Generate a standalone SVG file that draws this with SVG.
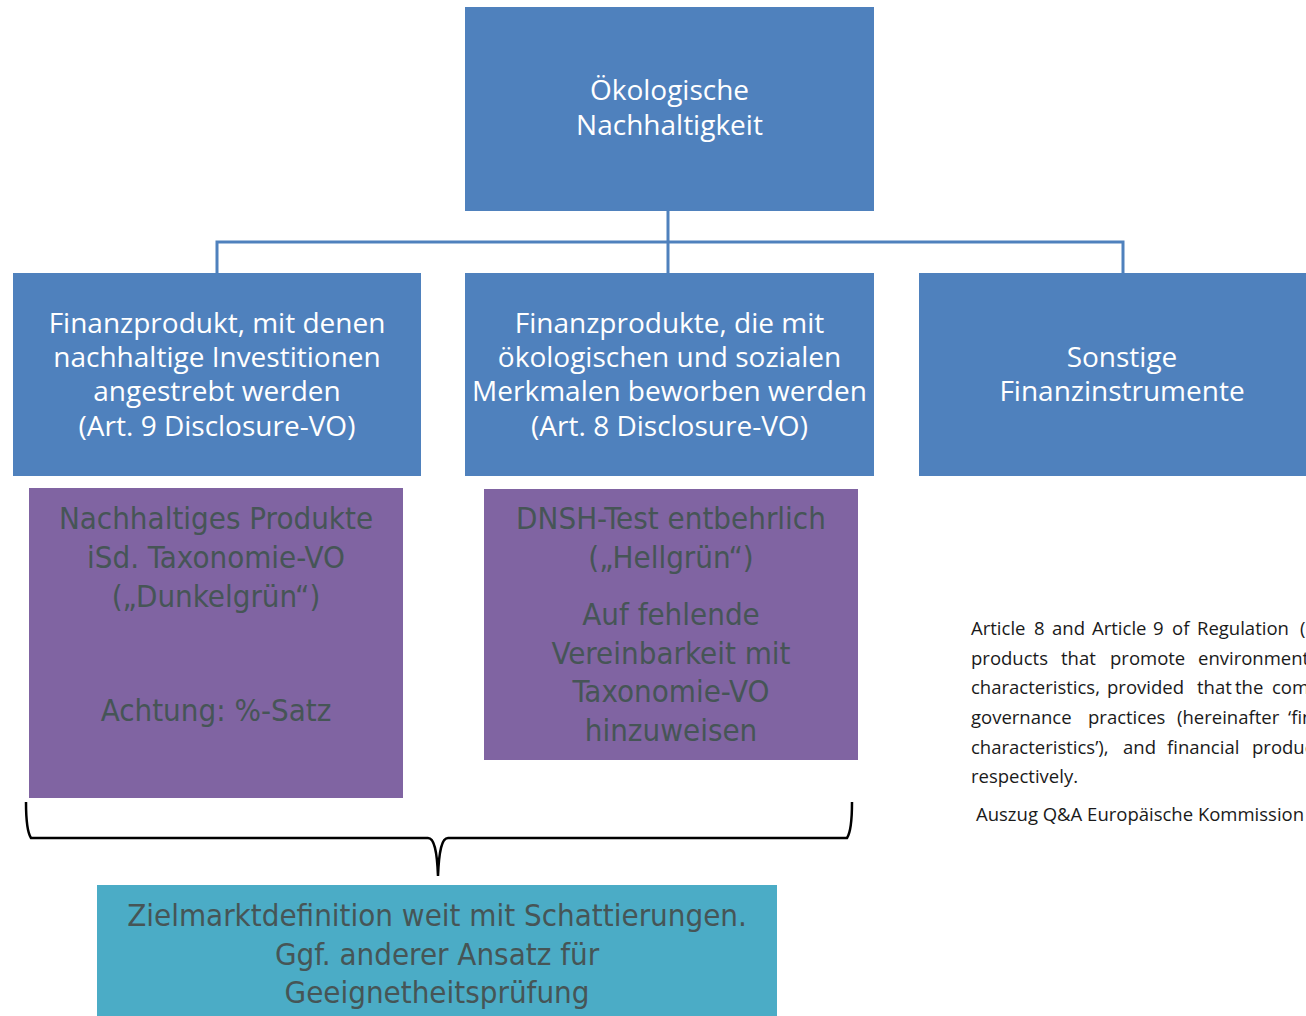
<svg xmlns="http://www.w3.org/2000/svg" width="1306" height="1016" viewBox="0 0 1306 1016">
<style>
.blue{fill:#4F81BD}
.purple{fill:#8064A2}
.teal{fill:#4BACC6}
.wt{font-family:"Open Sans","Noto Sans",sans-serif;font-size:28px;fill:#FFFFFF;text-anchor:middle}
.gt{font-family:"DejaVu Sans Condensed","DejaVu Sans",sans-serif;font-stretch:condensed;font-size:31px;fill:#465556;text-anchor:middle}
.qt{font-family:"Open Sans","Noto Sans",sans-serif;font-size:18.5px;fill:#1a1a1a}
.conn{stroke:#4F81BD;stroke-width:3;fill:none}
.brace{stroke:#000;stroke-width:2.5;fill:none}
</style>
<rect width="1306" height="1016" fill="#FFFFFF"/>
<g id="connectors">
<path class="conn" d="M668 211V273M217 273V242H1123V273"/>
</g>
<g id="node-top">
<rect class="blue" x="465" y="7" width="409" height="204"/>
<text class="wt"><tspan x="669.5" y="100">Ökologische</tspan><tspan x="669.5" y="135">Nachhaltigkeit</tspan></text>
</g>
<g id="node-art9">
<rect class="blue" x="13" y="273" width="408" height="203"/>
<text class="wt"><tspan x="217" y="333">Finanzprodukt, mit denen</tspan><tspan x="217" y="367">nachhaltige Investitionen</tspan><tspan x="217" y="401">angestrebt werden</tspan><tspan x="217" y="436">(Art. 9 Disclosure-VO)</tspan></text>
</g>
<g id="node-art8">
<rect class="blue" x="465" y="273" width="409" height="203"/>
<text class="wt"><tspan x="669.5" y="333">Finanzprodukte, die mit</tspan><tspan x="669.5" y="367">ökologischen und sozialen</tspan><tspan x="669.5" y="401">Merkmalen beworben werden</tspan><tspan x="669.5" y="436">(Art. 8 Disclosure-VO)</tspan></text>
</g>
<g id="node-sonstige">
<rect class="blue" x="919" y="273" width="387" height="203"/>
<text class="wt"><tspan x="1122" y="367">Sonstige</tspan><tspan x="1122" y="401">Finanzinstrumente</tspan></text>
</g>
<g id="node-dunkelgruen">
<rect class="purple" x="29" y="488" width="374" height="310"/>
<text class="gt"><tspan x="216" y="529">Nachhaltiges Produkte</tspan><tspan x="216" y="568">iSd. Taxonomie-VO</tspan><tspan x="216" y="607">(„Dunkelgrün“)</tspan><tspan x="216" y="721">Achtung: %-Satz</tspan></text>
</g>
<g id="node-hellgruen">
<rect class="purple" x="484" y="489" width="374" height="271"/>
<text class="gt"><tspan x="671" y="529">DNSH-Test entbehrlich</tspan><tspan x="671" y="568">(„Hellgrün“)</tspan><tspan x="671" y="625">Auf fehlende</tspan><tspan x="671" y="664">Vereinbarkeit mit</tspan><tspan x="671" y="702">Taxonomie-VO</tspan><tspan x="671" y="741">hinzuweisen</tspan></text>
</g>
<g id="brace">
<path class="brace" d="M26 802C26 820 27 832 31 838H428C434 838 437 850 438 876C439 850 442 838 448 838H847C851 832 852 820 852 802"/>
</g>
<g id="node-zielmarkt">
<rect class="teal" x="97" y="885" width="680" height="131"/>
<text class="gt"><tspan x="437" y="926">Zielmarktdefinition weit mit Schattierungen.</tspan><tspan x="437" y="965">Ggf. anderer Ansatz für</tspan><tspan x="437" y="1003">Geeignetheitsprüfung</tspan></text>
</g>
<g id="quote">
<text class="qt" y="635"><tspan x="971">Article</tspan><tspan x="1034">8</tspan><tspan x="1052">and</tspan><tspan x="1092">Article</tspan><tspan x="1153">9</tspan><tspan x="1172">of</tspan><tspan x="1197">Regulation</tspan><tspan x="1300">(EU)</tspan></text>
<text class="qt" y="665"><tspan x="971">products</tspan><tspan x="1061">that</tspan><tspan x="1110">promote</tspan><tspan x="1198">environmental</tspan></text>
<text class="qt" y="694"><tspan x="971">characteristics,</tspan><tspan x="1107">provided</tspan><tspan x="1197">that</tspan><tspan x="1235">the</tspan><tspan x="1272">companies</tspan></text>
<text class="qt" y="724"><tspan x="971">governance</tspan><tspan x="1088">practices</tspan><tspan x="1177">(hereinafter</tspan><tspan x="1288">‘financial</tspan></text>
<text class="qt" y="754"><tspan x="971">characteristics’),</tspan><tspan x="1123">and</tspan><tspan x="1167">financial</tspan><tspan x="1252">products</tspan></text>
<text class="qt" x="971" y="783">respectively.</text>
<text class="qt" x="976" y="821" fill="#000">Auszug Q&amp;A Europäische Kommission</text>
</g>
</svg>
